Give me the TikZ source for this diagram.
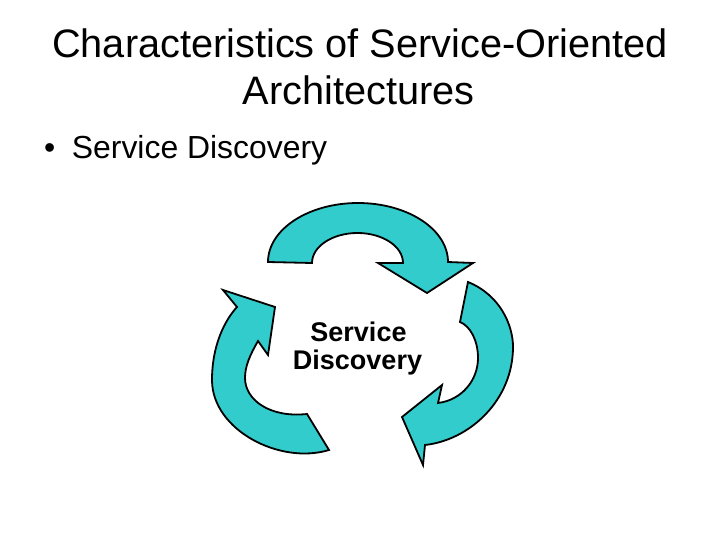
\documentclass[tikz,border=0pt]{standalone}
\usepackage{fontspec}
\setmainfont{Liberation Sans}
\usepackage{xcolor}
\definecolor{cycleteal}{RGB}{51,204,204}
\usetikzlibrary{positioning}

\tikzset{
  cyclearrow/.style={fill=cycleteal, draw=black, line width=1.8pt, line join=miter},
  titletext/.style={inner sep=0pt, anchor=base, font=\fontsize{39.7}{46}\selectfont},
  bullettext/.style={inner sep=0pt, anchor=base west, font=\fontsize{31.9}{38}\selectfont},
  hubtext/.style={inner sep=0pt, anchor=base, font=\fontsize{27}{32}\selectfont\bfseries}
}

\begin{document}
\begin{tikzpicture}[x=1pt,y=1pt]
\useasboundingbox (0,0) rectangle (720,-540);
% title
\node[titletext] (titleA) at (360,-58) {Characteristics of Service-Oriented};
\node[titletext] (titleB) at (358.5,-105) {Architectures};
% bullet
\node[bullettext] (dot) at (44,-158.3) {\textbullet};
\node[bullettext] (item) at (71.7,-158.3) {Service Discovery};
% top arrow
\draw[cyclearrow] (268,-262) arc[start angle=180, end angle=0, x radius=90, y radius=59]
  -- (473,-263) -- (427,-293) -- (378,-263) -- (403,-263)
  arc[start angle=0, end angle=180, x radius=45.5, y radius=30] -- cycle;
% right arrow
\draw[cyclearrow] (468,-282) .. controls (500,-295) and (513,-325) .. (513,-347)
  .. controls (513,-400) and (470,-440) .. (425,-445)
  -- (423,-465) -- (402,-417) -- (442,-385) -- (438,-403)
  .. controls (462,-400) and (478,-380) .. (478,-358)
  .. controls (478,-340) and (470,-326) .. (460,-322) -- cycle;
% left arrow
\draw[cyclearrow] (329,-450) .. controls (280,-465) and (212,-430) .. (212,-380)
  .. controls (212,-345) and (225,-320) .. (237,-307)
  -- (223,-290) -- (275,-307) -- (268,-355) -- (258,-341)
  .. controls (250,-355) and (245,-366) .. (245,-378)
  .. controls (245,-400) and (270,-418) .. (307,-414) -- cycle;
% hub label
\node[hubtext] (hubA) at (358.5,-341.7) {Service};
\node[hubtext] (hubB) at (357.5,-369.3) {Discovery};
\end{tikzpicture}
\end{document}
